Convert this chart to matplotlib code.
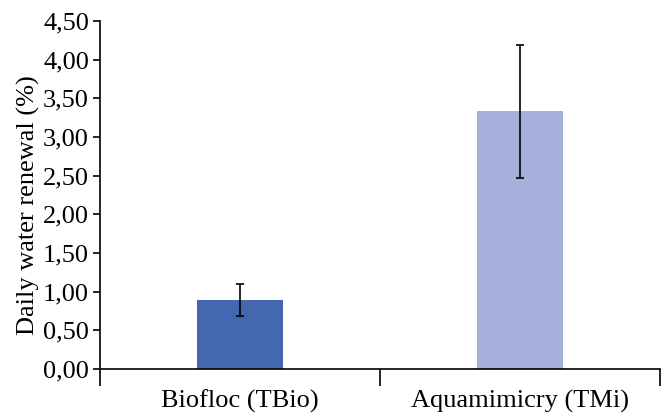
import matplotlib.pyplot as plt
from matplotlib.ticker import FuncFormatter

categories = ['Biofloc (TBio)', 'Aquamimicry (TMi)']
renewal = [0.895, 3.335]
err = [0.205, 0.86]
colors = ['#4467b0', '#a7b0da']

plt.rcParams['font.family'] = ['Liberation Serif', 'DejaVu Serif']

fig = plt.figure(figsize=(6.61, 4.13), dpi=100)
ax = fig.add_axes([0.1513, 0.1065, 0.8472, 0.8426])

x = range(len(categories))
ax.bar(x, renewal, width=0.31, color=colors, zorder=2)
ax.errorbar(x, renewal, yerr=err, fmt='none', ecolor='black',
            elinewidth=1.2, capsize=3, capthick=1.2, zorder=3)

ax.set_xlim(-0.5, 1.5)
ax.set_ylim(0, 4.5)
ax.set_yticks([i * 0.5 for i in range(10)])
ax.yaxis.set_major_formatter(FuncFormatter(lambda v, p: f'{v:.2f}'.replace('.', ',')))
ax.set_xticks(list(x))
ax.set_xticklabels(categories)
ax.set_xticks([-0.5, 0.5, 1.5], minor=True)
ax.tick_params(axis='x', which='major', length=0, labelsize=19, pad=15)
ax.tick_params(axis='x', which='minor', length=12, width=1.2, direction='out')
ax.tick_params(axis='y', length=5, width=1.2, labelsize=19, pad=3)

for s in ['top', 'right']:
    ax.spines[s].set_visible(False)
for s in ['left', 'bottom']:
    ax.spines[s].set_linewidth(1.2)

ax.set_ylabel('Daily water renewal (%)', fontsize=19, labelpad=2, y=0.47)

fig.savefig('out.png', dpi=100)
